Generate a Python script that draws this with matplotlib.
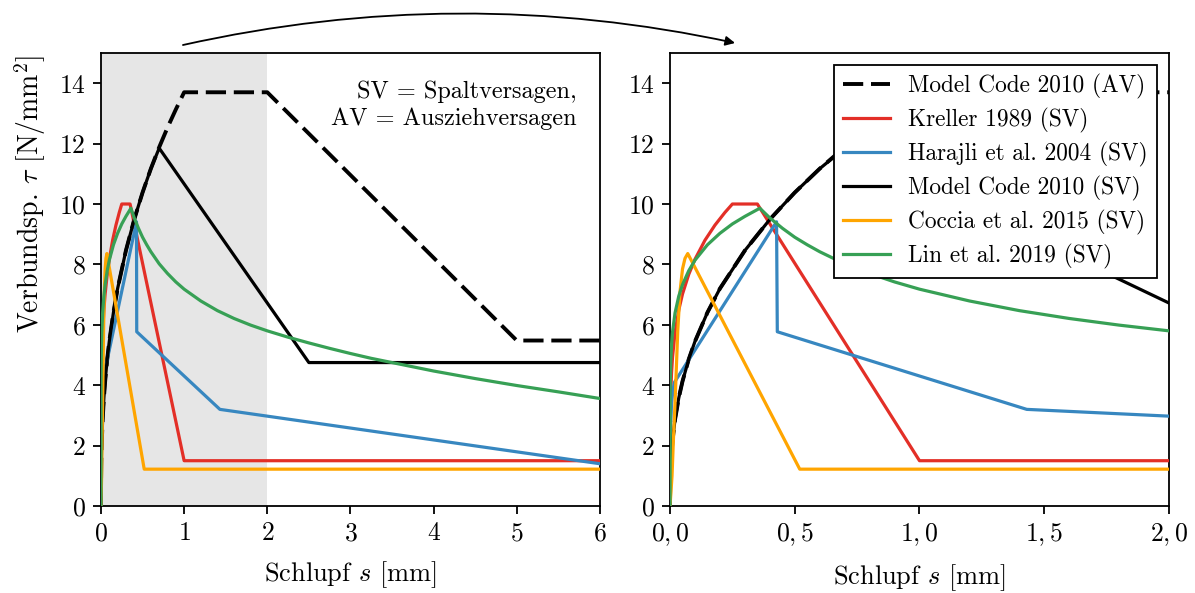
import matplotlib
matplotlib.use("Agg")
import matplotlib.pyplot as plt
from matplotlib.patches import FancyArrowPatch

plt.rcParams['font.family'] = 'serif'
plt.rcParams['font.serif'] = ['cmr10']
plt.rcParams['mathtext.fontset'] = 'cm'
plt.rcParams['axes.formatter.use_mathtext'] = True
plt.rcParams['axes.unicode_minus'] = False

# Model Code 2010, Ausziehversagen (AV)
mc_av_s = [0, 0.0001, 0.001, 0.003, 0.006, 0.01, 0.02, 0.035, 0.05, 0.075, 0.1, 0.15,
           0.2, 0.3, 0.4, 0.5, 0.6, 0.7, 0.8, 0.9, 1.0, 2.0, 5.0, 6.0]
mc_av_t = [0, 0.34, 0.87, 1.34, 1.77, 2.17, 2.86, 3.58, 4.13, 4.86, 5.45, 6.41,
           7.20, 8.46, 9.49, 10.38, 11.17, 11.88, 12.53, 13.13, 13.7, 13.7, 5.48, 5.48]

# Model Code 2010, Spaltversagen (SV)
mc_sv_s = [0, 0.0001, 0.001, 0.003, 0.006, 0.01, 0.02, 0.035, 0.05, 0.075, 0.1, 0.15,
           0.2, 0.3, 0.4, 0.5, 0.6, 0.7, 2.5, 6.0]
mc_sv_t = [0, 0.34, 0.87, 1.34, 1.77, 2.17, 2.86, 3.58, 4.13, 4.86, 5.45, 6.41,
           7.20, 8.46, 9.49, 10.38, 11.17, 11.85, 4.75, 4.75]

# Kreller 1989
kr_s = [0, 0.001, 0.003, 0.006, 0.01, 0.02, 0.035, 0.05, 0.075, 0.1, 0.14, 0.18,
        0.22, 0.25, 0.35, 1.0, 6.0]
kr_t = [0, 2.97, 3.78, 4.40, 4.93, 5.74, 6.49, 7.02, 7.67, 8.17, 8.80, 9.30,
        9.72, 10.0, 10.0, 1.5, 1.5]

# Harajli et al. 2004
ha_s = [0, 0.002, 0.006, 0.012, 0.018, 0.427, 0.43, 1.43, 6.0]
ha_t = [0, 2.5, 3.4, 3.85, 4.1, 9.41, 5.77, 3.2, 1.4]

# Coccia et al. 2015
co_s = [0, 0.008, 0.014, 0.02, 0.025, 0.031, 0.04, 0.05, 0.06, 0.071, 0.52, 6.0]
co_t = [0, 1.0, 2.3, 3.4, 4.5, 5.8, 7.1, 7.85, 8.2, 8.36, 1.22, 1.22]

# Lin et al. 2019
li_s = [0, 0.001, 0.003, 0.006, 0.01, 0.02, 0.035, 0.05, 0.075, 0.1, 0.15, 0.2,
        0.25, 0.3, 0.36, 0.38, 0.4, 0.45, 0.5, 0.55, 0.6, 0.7, 0.8, 0.9, 1.0,
        1.2, 1.4, 1.6, 1.8, 2.0, 2.25, 2.5, 2.75, 3.0, 3.25, 3.5, 3.75, 4.0,
        4.5, 5.0, 5.5, 6.0]
li_t = [0, 4.08, 4.81, 5.34, 5.76, 6.39, 6.95, 7.33, 7.79, 8.14, 8.65, 9.03,
        9.34, 9.59, 9.86, 9.70, 9.54, 9.20, 8.90, 8.65, 8.42, 8.02, 7.70, 7.42, 7.18,
        6.79, 6.47, 6.21, 5.99, 5.80, 5.59, 5.40, 5.22, 5.05, 4.89, 4.75, 4.61, 4.47,
        4.22, 3.99, 3.78, 3.56]

left_xticks = [0, 1, 2, 3, 4, 5, 6]
right_xticks = [0.0, 0.5, 1.0, 1.5, 2.0]
right_xlabels = ['$0,0$', '$0,5$', '$1,0$', '$1,5$', '$2,0$']
yticks = [0, 2, 4, 6, 8, 10, 12, 14]

red = '#e32f27'
blue = '#3787c0'
green = '#37a055'
orange = '#ffa500'
lw = 2.3

fig = plt.figure(figsize=(11.95, 5.93), dpi=100)
ax1 = fig.add_axes([0.0845, 0.1467, 0.4175, 0.7639])
ax2 = fig.add_axes([0.5607, 0.1467, 0.4175, 0.7639])

for ax in (ax1, ax2):
    ax.plot(mc_av_s, mc_av_t, color='black', lw=2.8, ls=(0, (5.2, 2.0)),
            label='Model Code 2010 (AV)', zorder=2)
    ax.plot(kr_s, kr_t, color=red, lw=lw, label='Kreller 1989 (SV)', zorder=3)
    ax.plot(ha_s, ha_t, color=blue, lw=lw, label='Harajli et al. 2004 (SV)', zorder=3)
    ax.plot(mc_sv_s, mc_sv_t, color='black', lw=lw, label='Model Code 2010 (SV)', zorder=3)
    ax.plot(co_s, co_t, color=orange, lw=lw, label='Coccia et al. 2015 (SV)', zorder=3)
    ax.plot(li_s, li_t, color=green, lw=lw, label='Lin et al. 2019 (SV)', zorder=3)
    ax.set_ylim(0, 15)
    ax.set_yticks(yticks)
    ax.tick_params(direction='out', length=6, width=1.3, labelsize=18.5, pad=5)
    for sp in ax.spines.values():
        sp.set_linewidth(1.3)
    ax.set_xlabel('Schlupf $s$ [mm]', fontsize=19, labelpad=10)

ax1.axvspan(0, 2, color='#e6e6e6', lw=0, zorder=0)
ax1.set_xlim(0, 6)
ax1.set_xticks(left_xticks)
ax1.set_ylabel(r'Verbundsp. $\tau$ [N/mm$^2$]', fontsize=20)
ax1.yaxis.set_label_coords(-0.107, 0.69)
ax1.text(0.953, 0.94, 'SV = Spaltversagen,\nAV = Ausziehversagen', transform=ax1.transAxes,
         ha='right', va='top', fontsize=17.5, linespacing=1.3)

ax2.set_xlim(0, 2)
ax2.set_xticks(right_xticks)
ax2.set_xticklabels(right_xlabels)
leg = ax2.legend(loc='upper right', fontsize=16.8, frameon=True, fancybox=False,
                 framealpha=1, edgecolor='black', handlelength=2.0, borderaxespad=0.5,
                 labelspacing=0.38)
leg.get_frame().set_linewidth(1.3)

arrow = FancyArrowPatch((0.1531, 0.9241), (0.6151, 0.9275), transform=fig.transFigure,
                        connectionstyle='arc3,rad=-0.11', arrowstyle='-|>',
                        mutation_scale=14, lw=1.3, color='black',
                        shrinkA=0, shrinkB=0)
fig.add_artist(arrow)

fig.savefig('out.png', dpi=100)
